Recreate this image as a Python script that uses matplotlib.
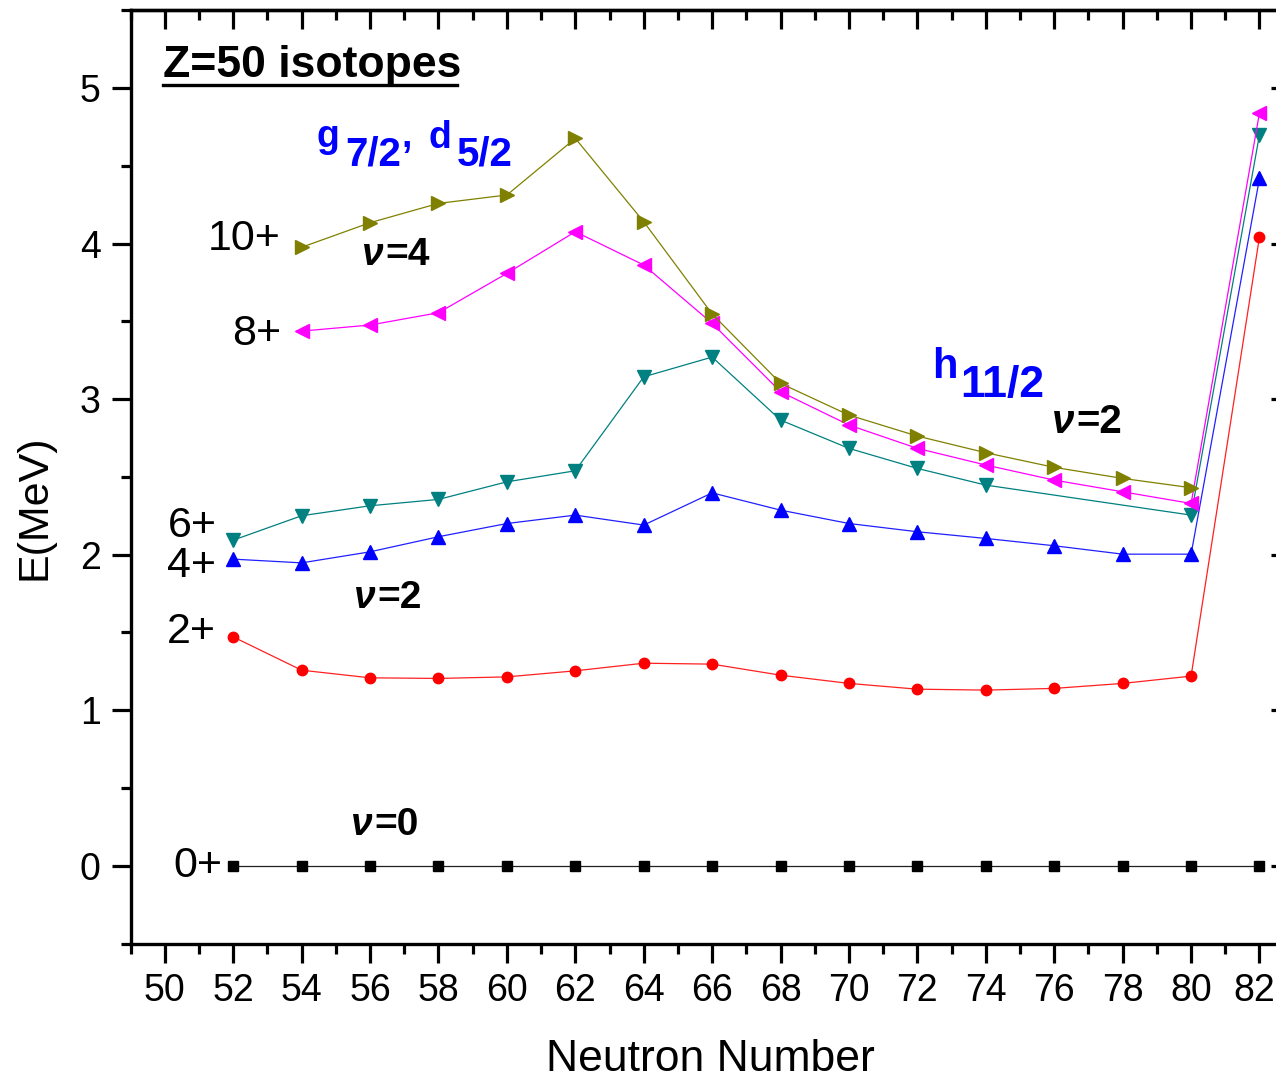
import numpy as np
import matplotlib
matplotlib.use("Agg")
import matplotlib.pyplot as plt
from matplotlib.ticker import MultipleLocator
from matplotlib.lines import Line2D
from matplotlib.transforms import ScaledTranslation

# ---------------- data ----------------
N_all = [52, 54, 56, 58, 60, 62, 64, 66, 68, 70, 72, 74, 76, 78, 80, 82]
E_0p = [0.0] * 16
E_2p = [1.471, 1.257, 1.208, 1.204, 1.214, 1.253, 1.302, 1.296, 1.225, 1.172,
        1.135, 1.129, 1.140, 1.172, 1.219, 4.044]
E_4p = [1.971, 1.947, 2.018, 2.115, 2.200, 2.254, 2.190, 2.397, 2.286, 2.200,
        2.147, 2.104, 2.057, 2.003, 2.003, 4.419]
N_6p = [52, 54, 56, 58, 60, 62, 64, 66, 68, 70, 72, 74, 80, 82]
E_6p = [2.093, 2.250, 2.314, 2.355, 2.468, 2.539, 3.143, 3.270, 2.865, 2.683,
        2.554, 2.447, 2.254, 4.700]
N_8p = [54, 56, 58, 60, 62, 64, 66, 68, 70, 72, 74, 76, 78, 80, 82]
E_8p = [3.437, 3.476, 3.555, 3.808, 4.076, 3.862, 3.487, 3.047, 2.833, 2.683,
        2.576, 2.479, 2.404, 2.329, 4.841]
N_10p = [54, 56, 58, 60, 62, 64, 66, 68, 70, 72, 74, 76, 78, 80]
E_10p = [3.976, 4.134, 4.258, 4.312, 4.676, 4.140, 3.547, 3.101, 2.897, 2.762,
         2.655, 2.561, 2.490, 2.430]

x_ticks = list(range(50, 84, 2))
y_ticks = [0, 1, 2, 3, 4, 5]

# ---------------- figure ----------------
W, H = 1276, 1081
fig = plt.figure(figsize=(W / 100, H / 100), dpi=100)
plt.rcParams['font.family'] = ['Liberation Sans', 'DejaVu Sans']

ax_l, ax_r, ax_t, ax_b = 130.6, 1289.6, 10.2, 943.5
ax = fig.add_axes([ax_l / W, 1 - ax_b / H, (ax_r - ax_l) / W, (ax_b - ax_t) / H])

lw = 0.9
ax.plot(N_all, E_0p, color='#202020', lw=lw, marker='s', ms=6.5, mec='black', mfc='black')
ax.plot(N_all, E_2p, color='#ff2020', lw=lw, marker='o', ms=7.5, mec='red', mfc='red')
ax.plot(N_all, E_4p, color='#2020ff', lw=lw, marker='^', ms=10.5, mec='blue', mfc='blue')
ax.plot(N_6p, E_6p, color='#008080', lw=lw, marker='v', ms=10.5, mec='#008080', mfc='#008080')
ax.plot(N_8p, E_8p, color='#ff00ff', lw=lw, marker='<', ms=10.5, mec='#ff00ff', mfc='#ff00ff')
ax.plot(N_10p, E_10p, color='#808000', lw=lw, marker='>', ms=10.5, mec='#808000', mfc='#808000')

ax.set_xlim(49, 82.88)
ax.set_ylim(-0.5, 5.5)
ax.set_xticks(x_ticks)
ax.set_yticks(y_ticks)
ax.xaxis.set_minor_locator(MultipleLocator(1))
ax.yaxis.set_minor_locator(MultipleLocator(0.5))
for sp in ax.spines.values():
    sp.set_linewidth(2.4)
ax.tick_params(which='major', direction='out', length=13.5, width=2.3, labelsize=27, pad=8)
ax.tick_params(which='minor', direction='out', length=7.5, width=2.3)

# nudge the last x tick label so it stays inside the picture
last_lab = ax.xaxis.get_major_ticks()[-1].label1
last_lab.set_transform(last_lab.get_transform() + ScaledTranslation(-0.05, 0, fig.dpi_scale_trans))

secx = ax.secondary_xaxis('top')
secx.xaxis.set_major_locator(MultipleLocator(2))
secx.xaxis.set_minor_locator(MultipleLocator(1))
secx.tick_params(which='major', direction='in', length=13.5, width=2.3, labeltop=False)
secx.tick_params(which='minor', direction='in', length=7.5, width=2.3)
secx.spines['top'].set_linewidth(2.4)

secy = ax.secondary_yaxis('right')
secy.yaxis.set_major_locator(MultipleLocator(1))
secy.yaxis.set_minor_locator(MultipleLocator(0.5))
secy.tick_params(which='major', direction='in', length=13.5, width=2.3, labelright=False)
secy.tick_params(which='minor', direction='in', length=7.5, width=2.3)


def ptext(x, y, s, **kw):
    kw.setdefault('ha', 'left')
    kw.setdefault('va', 'baseline')
    return fig.text(x / W, 1 - y / H, s, **kw)


# axis titles
ptext(710, 1071, 'Neutron Number', fontsize=32, ha='center')
ptext(34, 507, 'E(MeV)', fontsize=31, rotation=90, ha='center', va='center')

# title with underline
ptext(163, 77, 'Z=50 isotopes', fontsize=32, fontweight='bold')
fig.add_artist(Line2D([163 / W, 457 / W], [1 - 85 / H, 1 - 85 / H],
                      transform=fig.transFigure, color='black', lw=2.4))

# spin labels
for x, y, s in [(208, 250, '10+'), (232, 345, '8+'), (168, 537, '6+'),
                (167, 577, '4+'), (167, 643, '2+'), (173, 877, '0+')]:
    ptext(x, y, s, fontsize=31)

# seniority labels
for x1, x2, y, s, fs in [(362, 385, 265, '=4', 28), (354, 377, 608, '=2', 28),
                         (351, 374, 835, '=0', 28), (1052, 1076, 433, '=2', 29)]:
    ptext(x1, y, '\u03bd', fontsize=fs, fontweight='bold', style='italic')
    ptext(x2, y, s, fontsize=fs, fontweight='bold')

# orbital labels
blue = '#0000ff'
ptext(317, 147, 'g', fontsize=27, fontweight='bold', color=blue)
ptext(345, 165, '7/2', fontsize=29, fontweight='bold', color=blue)
ptext(401, 147, ',', fontsize=27, fontweight='bold', color=blue)
ptext(429, 148, 'd', fontsize=27, fontweight='bold', color=blue)
ptext(457, 165, '5/2', fontsize=29, fontweight='bold', color=blue)
ptext(932, 378, 'h', fontsize=30, fontweight='bold', color=blue)
ptext(960, 397, '11/2', fontsize=32, fontweight='bold', color=blue)

fig.savefig('out.png', dpi=100)
